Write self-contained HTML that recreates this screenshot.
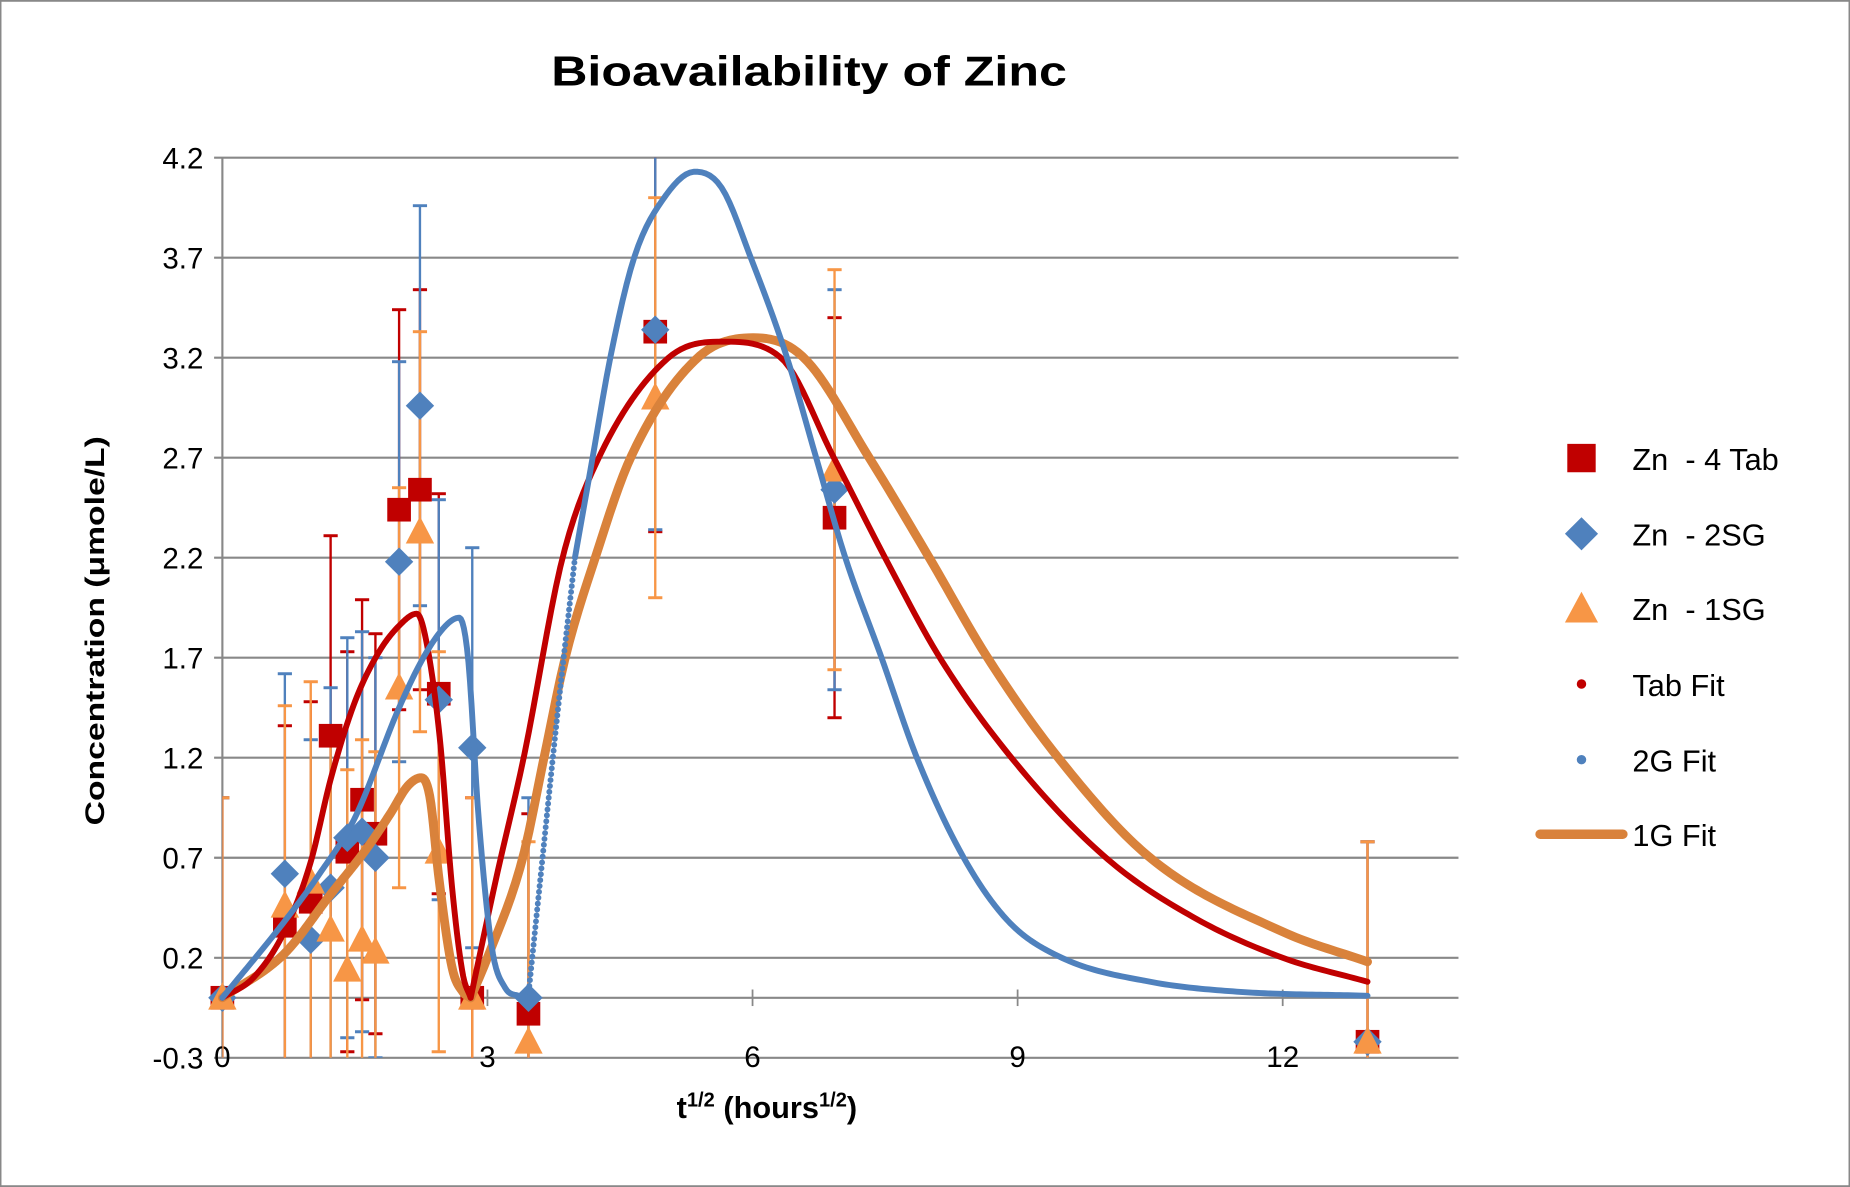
<!DOCTYPE html>
<html><head><meta charset="utf-8"><style>
html,body{margin:0;padding:0;background:#fff;}
svg{display:block;font-family:"Liberation Sans",sans-serif;}
</style></head><body>
<svg id="s" width="1850" height="1187" viewBox="0 0 1564 1003" xmlns="http://www.w3.org/2000/svg">
<rect x="0.5" y="0.5" width="1563" height="1002" fill="#fff" stroke="#888" stroke-width="1.5"/>
<defs><clipPath id="cp"><rect x="188" y="133" width="1045" height="761"/></clipPath></defs>
<g id="grid"></g>
<g id="bars" clip-path="url(#cp)"></g>
<g id="marks"></g>
<g id="fits"></g>
<text x="684" y="72" font-size="35" font-weight="bold" text-anchor="middle" textLength="436" lengthAdjust="spacingAndGlyphs">Bioavailability of Zinc</text>
<text transform="translate(88,533) rotate(-90)" font-size="23" font-weight="bold" text-anchor="middle" textLength="329" lengthAdjust="spacingAndGlyphs">Concentration  (μmole/L)</text>
<text x="572" y="945" font-size="26" font-weight="bold">t<tspan font-size="17" dy="-10">1/2</tspan><tspan dy="10"> (hours</tspan><tspan font-size="17" dy="-10">1/2</tspan><tspan dy="10">)</tspan></text>
<g id="legend" font-size="26"></g>
</svg>
<script>
const NS="http://www.w3.org/2000/svg";
function el(p,tag,a,txt){const e=document.createElementNS(NS,tag);for(const k in a)e.setAttribute(k,a[k]);if(txt!==undefined)e.textContent=txt;document.getElementById(p).appendChild(e);return e;}
const X=t=>188+74.7*t, Y=v=>894-(v+0.3)*169.1;
for(let k=0;k<=9;k++){const v=-0.3+0.5*k,y=Y(v);
 el("grid","line",{x1:181,x2:1233,y1:y,y2:y,stroke:"#888","stroke-width":1.8});
 el("grid","text",{x:172,y:y+9,"font-size":25,"text-anchor":"end"},v.toFixed(1));}
el("grid","line",{x1:188,x2:188,y1:133,y2:894,stroke:"#888","stroke-width":1.8});
const y0=Y(0);
el("grid","line",{x1:188,x2:1233,y1:y0,y2:y0,stroke:"#888","stroke-width":1.8});
[0,3,6,9,12].forEach(t=>{if(t>0)el("grid","line",{x1:X(t),x2:X(t),y1:y0-7,y2:y0+7,stroke:"#888","stroke-width":1.5});
 el("grid","text",{x:X(t),y:902,"font-size":25,"text-anchor":"middle"},String(t));});
const T=[0,0.707,1,1.225,1.414,1.581,1.732,2,2.236,2.449,2.828,3.464,4.899,6.928,12.96];
const R=[0,0.36,0.48,1.31,0.73,0.99,0.82,2.44,2.54,1.52,0.0,-0.08,3.33,2.40,-0.22];
const B=[0,0.62,0.29,0.55,0.80,0.83,0.70,2.18,2.96,1.49,1.25,0.0,3.34,2.54,-0.22];
const O=[0,0.46,0.58,0.34,0.14,0.29,0.23,1.55,2.33,0.73,0.0,-0.22,3.0,2.64,-0.22];
const CR="#C00000",CB="#4F81BD",CO="#F79646",CF="#D9823B";
function bars(V,c){T.forEach((t,i)=>{const x=X(t),a=Y(V[i]+1),b=Y(V[i]-1);
 el("bars","line",{x1:x,x2:x,y1:a,y2:b,stroke:c,"stroke-width":2});
 el("bars","line",{x1:x-6,x2:x+6,y1:a,y2:a,stroke:c,"stroke-width":2.5});
 el("bars","line",{x1:x-6,x2:x+6,y1:b,y2:b,stroke:c,"stroke-width":2.5});});}
bars(R,CR);bars(B,CB);bars(O,CO);
T.forEach((t,i)=>{const x=X(t),y=Y(R[i]);el("marks","rect",{x:x-10,y:y-10,width:20,height:20,fill:CR});});
T.forEach((t,i)=>{const x=X(t),y=Y(B[i]);el("marks","polygon",{points:`${x},${y-12} ${x+12},${y} ${x},${y+12} ${x-12},${y}`,fill:CB});});
T.forEach((t,i)=>{const x=X(t),y=Y(O[i]);el("marks","polygon",{points:`${x},${y-13} ${x+12},${y+10} ${x-12},${y+10}`,fill:CO});});
function mono(xs,ys){const n=xs.length,d=[],m=[];
 for(let i=0;i<n-1;i++)d.push((ys[i+1]-ys[i])/(xs[i+1]-xs[i]));
 m[0]=d[0];m[n-1]=d[n-2];
 for(let i=1;i<n-1;i++){m[i]=(d[i-1]*d[i]<=0)?0:(d[i-1]+d[i])/2;}
 for(let i=0;i<n-1;i++){if(d[i]===0){m[i]=0;m[i+1]=0;continue;}const a=m[i]/d[i],b=m[i+1]/d[i],s=a*a+b*b;if(s>9){const tt=3/Math.sqrt(s);m[i]=tt*a*d[i];m[i+1]=tt*b*d[i];}}
 return x=>{let i=0;while(i<n-2&&x>xs[i+1])i++;const h=xs[i+1]-xs[i],t=(x-xs[i])/h,t2=t*t,t3=t2*t;
  return (2*t3-3*t2+1)*ys[i]+(t3-2*t2+t)*h*m[i]+(-2*t3+3*t2)*ys[i+1]+(t3-t2)*h*m[i+1];};}
function curve(xs,ys,attrs){const f=mono(xs,ys);let d="";const a=xs[0],b=xs[xs.length-1],N=200;
 for(let k=0;k<=N;k++){const t=a+(b-a)*k/N;d+=(k?"L":"M")+X(t).toFixed(2)+","+Y(f(t)).toFixed(2);}
 attrs.d=d;attrs.fill="none";attrs["stroke-linecap"]="round";attrs["stroke-linejoin"]="round";el("fits","path",attrs);}
curve([0,0.7,1.23,1.64,1.9,2.1,2.25,2.35,2.45,2.6,2.72,2.81],[0,0.22,0.52,0.75,0.92,1.06,1.1,1.0,0.6,0.15,0.03,0],{stroke:CF,"stroke-width":7.5});
curve([2.81,3.0,3.4,3.64,3.88,4.22,4.62,5.38,6.02,6.58,7.32,8.0,8.66,9.46,10.5,12.0,12.96],[0,0.2,0.7,1.2,1.7,2.2,2.7,3.2,3.3,3.2,2.7,2.2,1.7,1.2,0.7,0.33,0.18],{stroke:CF,"stroke-width":7.5});
curve([0,0.35,0.7,1.0,1.23,1.5,1.76,2.0,2.2,2.3,2.46,2.6,2.72,2.81],[0,0.1,0.33,0.68,1.1,1.48,1.72,1.86,1.92,1.8,1.3,0.55,0.12,0],{stroke:CR,"stroke-width":5});
curve([2.81,3.1,3.41,3.85,4.26,5.05,5.68,6.32,6.92,7.5,8.12,8.93,10.0,11,12.0,12.96],[0,0.6,1.2,2.2,2.7,3.2,3.28,3.2,2.7,2.2,1.7,1.2,0.7,0.4,0.2,0.08],{stroke:CR,"stroke-width":5});
curve([0,0.7,1.1,1.5,2.0,2.3,2.55,2.68,2.78,2.9,3.05,3.2,3.35,3.46],[0,0.38,0.62,0.9,1.45,1.72,1.87,1.9,1.7,0.9,0.25,0.05,0.01,0],{stroke:CB,"stroke-width":5});
{const f=mono([3.46,3.6,3.8,3.99],[0,0.6,1.45,2.2]);let d="";for(let k=0;k<=40;k++){const t=3.46+0.53*k/40;d+=(k?"L":"M")+X(t)+","+Y(f(t));}
 el("fits","path",{d:d,fill:"none",stroke:CB,"stroke-width":5,"stroke-linecap":"round","stroke-dasharray":"0 5"});}
curve([3.99,4.19,4.39,4.66,5.0,5.35,5.65,5.98,6.39,6.72,7.05,7.46,7.86,8.39,8.9,9.5,10.5,11.5,12.96],[2.2,2.7,3.2,3.7,4.0,4.13,4.05,3.7,3.2,2.7,2.2,1.7,1.2,0.7,0.38,0.2,0.08,0.03,0.01],{stroke:CB,"stroke-width":5});
const LX=1337,TX=1380,LY=[387,451,514,578,642,705];
el("legend","rect",{x:LX-12,y:LY[0]-12,width:24,height:24,fill:CR});
el("legend","polygon",{points:`${LX},${LY[1]-14} ${LX+14},${LY[1]} ${LX},${LY[1]+14} ${LX-14},${LY[1]}`,fill:CB});
el("legend","polygon",{points:`${LX},${LY[2]-14} ${LX+14},${LY[2]+12} ${LX-14},${LY[2]+12}`,fill:CO});
el("legend","circle",{cx:LX,cy:LY[3],r:4,fill:CR});
el("legend","circle",{cx:LX,cy:LY[4],r:4,fill:CB});
el("legend","line",{x1:1302,x2:1372,y1:LY[5],y2:LY[5],stroke:CF,"stroke-width":8,"stroke-linecap":"round"});
["Zn  - 4 Tab","Zn  - 2SG","Zn  - 1SG","Tab Fit","2G Fit","1G Fit"].forEach((s,i)=>{const t=el("legend","text",{x:TX,y:LY[i]+10},s);t.style.whiteSpace="pre";});
</script>
</body></html>
